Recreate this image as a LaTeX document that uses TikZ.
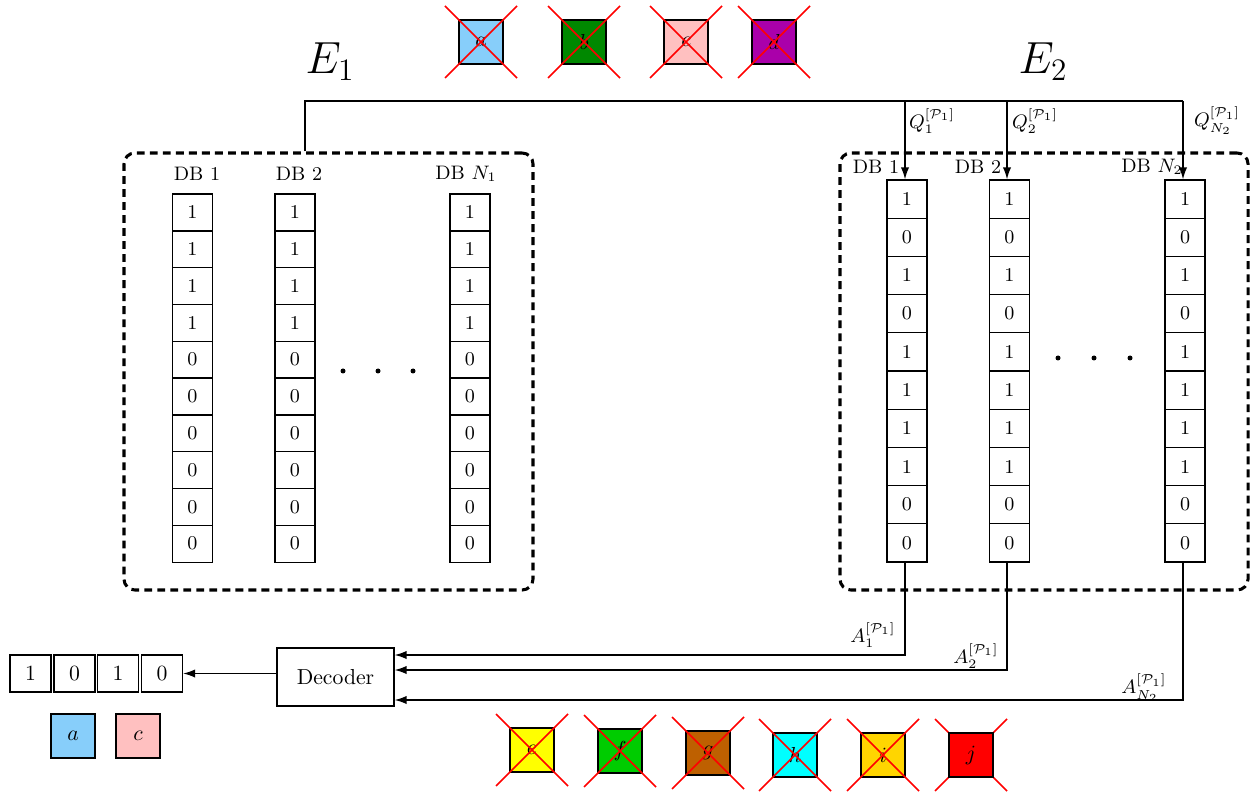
\documentclass[tikz,border=0pt]{standalone}
\usetikzlibrary{arrows.meta}
\def\pu{0.461pt}
\definecolor{lskyblue}{RGB}{135,206,250}
\definecolor{dgreen}{RGB}{0,136,0}
\definecolor{lpink}{RGB}{255,192,192}
\definecolor{purp}{RGB}{170,0,170}
\definecolor{yel}{RGB}{255,255,0}
\definecolor{grn}{RGB}{0,204,0}
\definecolor{brn}{RGB}{190,96,0}
\definecolor{cyn}{RGB}{0,255,255}
\definecolor{gld}{RGB}{255,213,0}
\definecolor{rd}{RGB}{255,0,0}
\begin{document}
\begin{tikzpicture}[x=0.461pt,y=-0.461pt,
  cell/.style={draw, line width=0.6pt, minimum width=40*\pu, minimum height=37*\pu, inner sep=0pt, font=\small},
  rcell/.style={cell, minimum height=38.2*\pu},
  ocell/.style={draw, line width=0.6pt, minimum width=41*\pu, minimum height=37*\pu, inner sep=0pt},
  csq/.style={draw, line width=0.6pt, minimum size=44*\pu, inner sep=0pt},
  cross/.style={red, line width=0.7pt},
  group/.style={draw, line width=1.4pt, dash pattern=on 3.6pt off 2.4pt, rounded corners=5pt, inner sep=0pt},
  wire/.style={line width=0.6pt},
  arr/.style={wire, -{Latex[length=5.5pt,width=3.8pt]}},
  dblab/.style={font=\small, inner sep=1pt},
  lab/.style={font=\small, inner sep=1pt},
  bigdot/.style={circle, fill, inner sep=0pt, minimum size=5*\pu}]
\useasboundingbox (0,0) rectangle (1254,796);

% group boxes
\node[group, minimum width=409*\pu, minimum height=437*\pu] (lg) at (328.5,371.5) {};
\node[group, minimum width=408*\pu, minimum height=437*\pu] (rg) at (1044,371.5) {};

% titles
\node (e1) at (330,62) {\huge $E_1$};
\node (e2) at (1043,62) {\huge $E_2$};

% left columns
\foreach \v [count=\k] in {1,1,1,1,0,0,0,0,0,0} {
  \node[cell] (La-\k) at (192.5,{212.5+36.8*(\k-1)}) {\v};
  \node[cell] (Lb-\k) at (295,{212.5+36.8*(\k-1)}) {\v};
  \node[cell] (Lc-\k) at (470,{212.5+36.8*(\k-1)}) {\v};
}
\node[dblab] (ldb1) at (197,174) {DB 1};
\node[dblab] (ldb2) at (299,174) {DB 2};
\node[dblab] (ldb3) at (466,174) {DB $N_1$};
\node[bigdot] (ld1) at (343,371) {};
\node[bigdot] (ld2) at (378,371) {};
\node[bigdot] (ld3) at (413,371) {};

% right columns
\foreach \v [count=\k] in {1,0,1,0,1,1,1,1,0,0} {
  \node[rcell] (Ra-\k) at (907,{199.1+38.2*(\k-1)}) {\v};
  \node[rcell] (Rb-\k) at (1009.5,{199.1+38.2*(\k-1)}) {\v};
  \node[rcell] (Rc-\k) at (1185,{199.1+38.2*(\k-1)}) {\v};
}
\node[dblab] (rdb1) at (876,167) {DB 1};
\node[dblab] (rdb2) at (978,167) {DB 2};
\node[dblab] (rdb3) at (1152,167) {DB $N_2$};
\node[bigdot] (rd1) at (1058,358) {};
\node[bigdot] (rd2) at (1094,358) {};
\node[bigdot] (rd3) at (1130,358) {};

% query lines
\coordinate (top) at (305,101);
\coordinate (qa) at (905,0);
\coordinate (qb) at (1007,0);
\coordinate (qc) at (1183,0);
\draw[wire] (lg.north -| top) -- (top) -- (top -| qc);
\draw[arr] (qa |- top) -- (qa |- Ra-1.north);
\draw[arr] (qb |- top) -- (qb |- Rb-1.north);
\draw[arr] (qc |- top) -- (qc |- Rc-1.north);
\node[lab] (q1) at (932,121) {$Q_1^{[\mathcal{P}_1]}$};
\node[lab] (q2) at (1035,121) {$Q_2^{[\mathcal{P}_1]}$};
\node[lab] (q3) at (1217,121) {$Q_{N_2}^{[\mathcal{P}_1]}$};

% decoder
\node[draw, line width=0.6pt, minimum width=117*\pu, minimum height=58*\pu, inner sep=0pt] (dec) at (335.5,677) {Decoder};
\coordinate (y1) at (0,655);
\coordinate (y2) at (0,670);
\coordinate (y3) at (0,700);
\draw[arr] (qa |- Ra-10.south) |- (dec.east |- y1);
\draw[arr] (qb |- Rb-10.south) |- (dec.east |- y2);
\draw[arr] (qc |- Rc-10.south) |- (dec.east |- y3);
\node[lab] (a1) at (873,635) {$A_1^{[\mathcal{P}_1]}$};
\node[lab] (a2) at (976,656) {$A_2^{[\mathcal{P}_1]}$};
\node[lab] (a3) at (1144,688) {$A_{N_2}^{[\mathcal{P}_1]}$};

% output
\node[ocell] (o1) at (30.5,673.5) {1};
\node[ocell] (o2) at (74.5,673.5) {0};
\node[ocell] (o3) at (118,673.5) {1};
\node[ocell] (o4) at (162,673.5) {0};
\draw[arr] (dec.west |- o4) -- (o4.east);
\node[csq, fill=lskyblue] (ra) at (73,736) {$a$};
\node[csq, fill=lpink] (rc) at (138,736) {$c$};

% crossed squares
\foreach \nm/\xx/\yy/\cl/\lt in {a/481/42/lskyblue/a, b/584/42/dgreen/b, c/686/42/lpink/c, d/774/42/purp/d,
  e/532/750/yel/e, f/620/751/grn/f, g/708/753/brn/g, h/795/755/cyn/h, i/883/755/gld/i} {
  \node[csq, fill=\cl] (s\nm) at (\xx,\yy) {$\lt$};
  \draw[cross] ([shift={(-36,-36)}]s\nm.center) -- ([shift={(36,36)}]s\nm.center);
  \draw[cross] ([shift={(-36,36)}]s\nm.center) -- ([shift={(36,-36)}]s\nm.center);
}
\draw[cross] (935,719) -- (1007,791);
\draw[cross] (935,791) -- (1007,719);
\node[csq, fill=rd] (sj) at (971,755) {$j$};
\end{tikzpicture}
\end{document}
